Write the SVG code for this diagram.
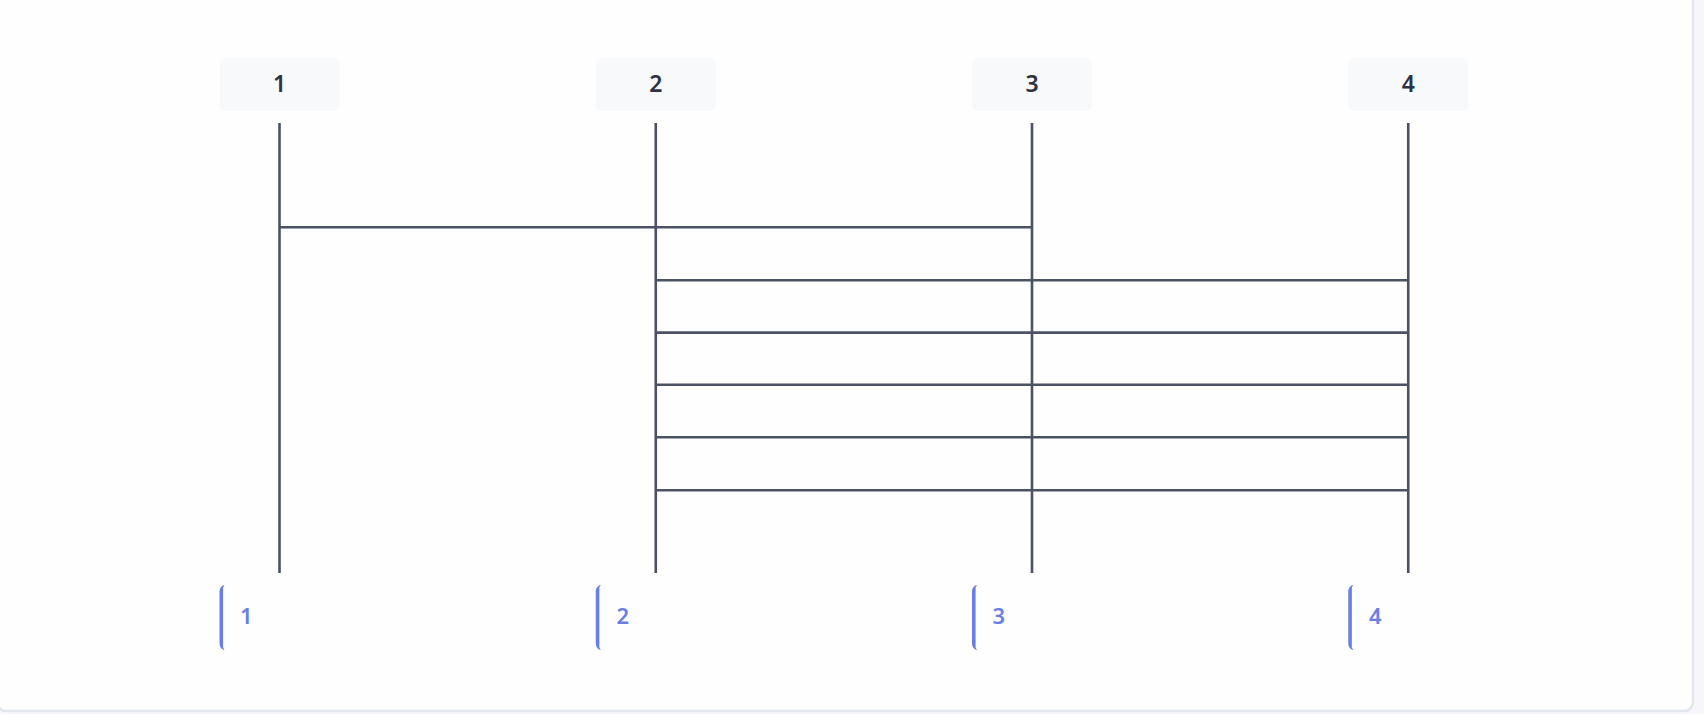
<svg xmlns="http://www.w3.org/2000/svg" width="1704" height="714" viewBox="0 0 1704 714">
<style>
.bg{fill:#f7f6fb}
.card{fill:#fefefe;stroke:#e2e6ef;stroke-width:2.5}
.box{fill:#f8f9fb}
.hdr{font-family:"Noto Sans","Open Sans",sans-serif;font-size:23px;font-weight:600;fill:#2d3343;text-anchor:middle}
.life{stroke:#4a5263;stroke-width:2.6;fill:none}
.msg{stroke:#4a5263;stroke-width:2.6;fill:none}
.brk{fill:#6a7fe6}
.lbl{font-family:"Noto Sans","Open Sans",sans-serif;font-size:22px;font-weight:600;fill:#6a7fe6}
</style>
<rect class="bg" x="0" y="0" width="1704" height="714"/>
<rect class="card" x="-3" y="-8" width="1696" height="719" rx="9"/>
<g id="node-1">
<rect class="box" x="219.5" y="58" width="120" height="53" rx="6"/>
<text class="hdr" x="279.5" y="91.5">1</text>
</g>
<g id="node-2">
<rect class="box" x="595.75" y="58" width="120" height="53" rx="6"/>
<text class="hdr" x="655.75" y="91.5">2</text>
</g>
<g id="node-3">
<rect class="box" x="972" y="58" width="120" height="53" rx="6"/>
<text class="hdr" x="1032" y="91.5">3</text>
</g>
<g id="node-4">
<rect class="box" x="1348.25" y="58" width="120" height="53" rx="6"/>
<text class="hdr" x="1408.25" y="91.5">4</text>
</g>
<g id="lifelines">
<line class="life" x1="279.5" y1="123" x2="279.5" y2="573"/>
<line class="life" x1="655.75" y1="123" x2="655.75" y2="573"/>
<line class="life" x1="1032" y1="123" x2="1032" y2="573"/>
<line class="life" x1="1408.25" y1="123" x2="1408.25" y2="573"/>
</g>
<g id="connectors">
<line class="msg" x1="279.5" y1="227.3" x2="1032" y2="227.3"/>
<line class="msg" x1="655.75" y1="280.3" x2="1408.25" y2="280.3"/>
<line class="msg" x1="655.75" y1="332.6" x2="1408.25" y2="332.6"/>
<line class="msg" x1="655.75" y1="384.8" x2="1408.25" y2="384.8"/>
<line class="msg" x1="655.75" y1="437.2" x2="1408.25" y2="437.2"/>
<line class="msg" x1="655.75" y1="490.2" x2="1408.25" y2="490.2"/>
</g>
<defs>
<path id="bracket" d="M5,0 C2,0.5 0,3 0,7 V58 C0,62 2,64.5 5,65 L3.6,62.5 V2.5 Z"/>
</defs>
<g id="label-1">
<use href="#bracket" class="brk" x="219.5" y="585"/>
<text class="lbl" x="240" y="624">1</text>
</g>
<g id="label-2">
<use href="#bracket" class="brk" x="595.75" y="585"/>
<text class="lbl" x="616.5" y="624">2</text>
</g>
<g id="label-3">
<use href="#bracket" class="brk" x="972" y="585"/>
<text class="lbl" x="992.5" y="624">3</text>
</g>
<g id="label-4">
<use href="#bracket" class="brk" x="1348.25" y="585"/>
<text class="lbl" x="1369" y="624">4</text>
</g>
</svg>
